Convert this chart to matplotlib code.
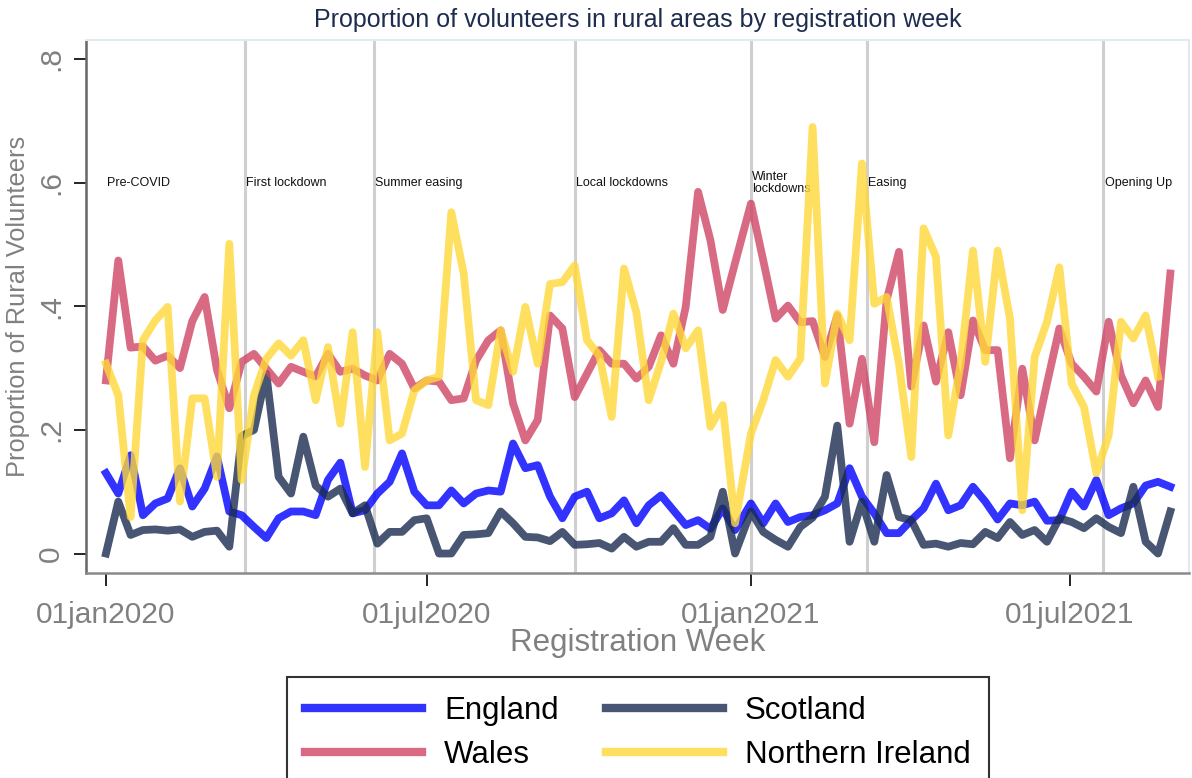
import matplotlib
matplotlib.use('Agg')
import matplotlib.pyplot as plt
import numpy as np
import pandas as pd

plt.rcParams['font.family'] = ['Liberation Sans', 'DejaVu Sans']

# weekly registration dates (Stata weeks: 52 in 2020, then 2021w1..w35)
weeks = pd.date_range('2020-01-01', periods=52, freq='7D').append(
    pd.date_range('2021-01-01', periods=35, freq='7D'))

england = [0.130, 0.097, 0.159, 0.062, 0.081, 0.089, 0.138, 0.076, 0.105, 0.157,
           0.068, 0.062, 0.043, 0.025, 0.057, 0.068, 0.068, 0.062, 0.119, 0.147,
           0.065, 0.070, 0.097, 0.116, 0.162, 0.100, 0.078, 0.078, 0.102, 0.081,
           0.097, 0.102, 0.100, 0.178, 0.138, 0.143, 0.092, 0.057, 0.092, 0.100,
           0.057, 0.065, 0.086, 0.049, 0.078, 0.094, 0.070, 0.046, 0.054, 0.040,
           0.073, 0.038,
           0.081, 0.049, 0.081, 0.051, 0.059, 0.062, 0.070, 0.081, 0.138, 0.092,
           0.065, 0.033, 0.033, 0.054, 0.073, 0.113, 0.070, 0.078, 0.108, 0.084,
           0.055, 0.081, 0.078, 0.084, 0.053, 0.054, 0.100, 0.076, 0.119, 0.062,
           0.073, 0.081, 0.110, 0.116, 0.108]

scotland = [0.000, 0.084, 0.030, 0.038, 0.039, 0.037, 0.039, 0.027, 0.035, 0.037,
            0.011, 0.190, 0.200, 0.291, 0.124, 0.097, 0.189, 0.110, 0.092, 0.105,
            0.065, 0.078, 0.016, 0.035, 0.035, 0.054, 0.057, 0.000, 0.000, 0.030,
            0.031, 0.033, 0.068, 0.049, 0.027, 0.026, 0.020, 0.035, 0.014, 0.015,
            0.017, 0.008, 0.027, 0.011, 0.019, 0.019, 0.041, 0.014, 0.014, 0.027,
            0.100, 0.000,
            0.068, 0.035, 0.022, 0.011, 0.043, 0.058, 0.092, 0.207, 0.019, 0.084,
            0.019, 0.127, 0.059, 0.054, 0.014, 0.016, 0.011, 0.017, 0.015, 0.035,
            0.025, 0.051, 0.030, 0.038, 0.019, 0.057, 0.051, 0.041, 0.057, 0.043,
            0.033, 0.108, 0.019, 0.000, 0.068]

wales = [0.280, 0.474, 0.333, 0.335, 0.312, 0.320, 0.300, 0.376, 0.415, 0.297,
         0.235, 0.310, 0.323, 0.299, 0.275, 0.302, 0.294, 0.286, 0.323, 0.294,
         0.299, 0.288, 0.280, 0.323, 0.307, 0.267, 0.280, 0.278, 0.248, 0.251,
         0.312, 0.345, 0.361, 0.243, 0.183, 0.216, 0.385, 0.364, 0.253, 0.291,
         0.329, 0.307, 0.307, 0.283, 0.302, 0.353, 0.307, 0.399, 0.585, 0.507,
         0.394, 0.470,
         0.566, 0.474, 0.380, 0.401, 0.374, 0.376, 0.318, 0.385, 0.210, 0.315,
         0.180, 0.410, 0.488, 0.270, 0.369, 0.278, 0.358, 0.256, 0.377, 0.329,
         0.329, 0.154, 0.299, 0.183, 0.275, 0.364, 0.307, 0.286, 0.262, 0.375,
         0.288, 0.243, 0.280, 0.237, 0.453]

nireland = [0.307, 0.256, 0.059, 0.345, 0.377, 0.399, 0.084, 0.251, 0.251, 0.124,
            0.501, 0.119, 0.256, 0.315, 0.340, 0.320, 0.345, 0.248, 0.334, 0.210,
            0.358, 0.140, 0.358, 0.183, 0.194, 0.264, 0.280, 0.286, 0.552, 0.453,
            0.248, 0.240, 0.361, 0.294, 0.399, 0.307, 0.436, 0.439, 0.466, 0.345,
            0.320, 0.221, 0.461, 0.390, 0.248, 0.310, 0.388, 0.332, 0.361, 0.205,
            0.240, 0.049,
            0.194, 0.248, 0.313, 0.286, 0.315, 0.690, 0.275, 0.388, 0.345, 0.631,
            0.404, 0.415, 0.307, 0.156, 0.526, 0.480, 0.191, 0.307, 0.490, 0.310,
            0.490, 0.380, 0.070, 0.318, 0.375, 0.463, 0.275, 0.237, 0.130, 0.191,
            0.375, 0.348, 0.385, 0.286, np.nan]

# policy periods
period_dates = pd.to_datetime(['2020-01-01', '2020-03-20', '2020-06-01', '2020-09-23',
                               '2021-01-01', '2021-03-08', '2021-07-20'])
period_labels = ['Pre-COVID', 'First lockdown', 'Summer easing', 'Local lockdowns',
                 'Winter\nlockdowns', 'Easing', 'Opening Up']

xtick_dates = pd.to_datetime(['2020-01-01', '2020-07-01', '2021-01-01', '2021-07-01'])
xtick_labels = ['01jan2020', '01jul2020', '01jan2021', '01jul2021']
yticks = [0, 0.2, 0.4, 0.6, 0.8]
ytick_labels = ['0', '.2', '.4', '.6', '.8']

fig = plt.figure(figsize=(11.92, 7.78), dpi=100)
ax = fig.add_axes([0.0721, 0.2635, 0.9254, 0.6851])

# period boundaries (skip the first, it sits on the start of the data)
for d in period_dates[1:]:
    ax.axvline(d, color='#cfcfcf', lw=2.2, zorder=1)
for d, lab in zip(period_dates, period_labels):
    ax.text(d + pd.Timedelta(days=0.7), 0.6, lab, fontsize=9, va='center',
            ha='left', linespacing=1.0, color='#111111', zorder=2)

lw = 5.6
h_eng, = ax.plot(weeks, england, color='#0000ff', alpha=0.8, lw=lw, label='England', zorder=3)
h_sco, = ax.plot(weeks, scotland, color='#1a2c50', alpha=0.8, lw=lw, label='Scotland', zorder=3)
h_wal, = ax.plot(weeks, wales, color='#cf4565', alpha=0.8, lw=lw, label='Wales', zorder=3)
h_ni, = ax.plot(weeks, nireland, color='#ffd838', alpha=0.8, lw=lw, label='Northern Ireland', zorder=3)

start = pd.Timestamp('2020-01-01')
ax.set_xlim(start - pd.Timedelta(days=11.35), start + pd.Timedelta(days=614.6))
ax.set_ylim(-0.0315, 0.8307)

ax.set_xticks(xtick_dates)
ax.set_xticklabels(xtick_labels)
ax.set_yticks(yticks)
ax.set_yticklabels(ytick_labels, rotation=90, va='center')
ax.tick_params(axis='both', length=9, width=1.2, color='black',
               labelcolor='#808080', labelsize=21.5)
ax.tick_params(axis='x', pad=11)
ax.tick_params(axis='y', pad=6)

for s in ['top', 'right']:
    ax.spines[s].set_color('#e3eaef')
    ax.spines[s].set_linewidth(1.5)
ax.spines['left'].set_color('#666666')
ax.spines['left'].set_linewidth(1.8)
ax.spines['bottom'].set_color('#8a8a8a')
ax.spines['bottom'].set_linewidth(1.8)

ax.set_xlabel('Registration Week', fontsize=22.5, color='#808080')
ax.xaxis.set_label_coords(0.5, -0.103)
ax.set_ylabel('Proportion of Rural Volunteers', fontsize=18.3, color='#808080')
ax.yaxis.set_label_coords(-0.051, 0.5)

fig.text(0.535, 1 - 20 / 778, 'Proportion of volunteers in rural areas by registration week',
         fontsize=18, color='#1e2d4f', ha='center', va='center')

# legend reads row-wise: England, Scotland / Wales, Northern Ireland
leg = fig.legend([h_eng, h_wal, h_sco, h_ni],
                 ['England', 'Wales', 'Scotland', 'Northern Ireland'],
                 ncol=2, loc='upper center', bbox_to_anchor=(0.5352, 1 - 677 / 778),
                 borderaxespad=0, fontsize=22.5, handlelength=3.75, handletextpad=0.7,
                 columnspacing=1.5, labelspacing=0.45, borderpad=0.6,
                 fancybox=False, frameon=True)
leg.get_frame().set_edgecolor('black')
leg.get_frame().set_linewidth(1.5)
for line in leg.get_lines():
    line.set_linewidth(6)
    line.set_alpha(0.8)

fig.savefig('out.png', dpi=100)
